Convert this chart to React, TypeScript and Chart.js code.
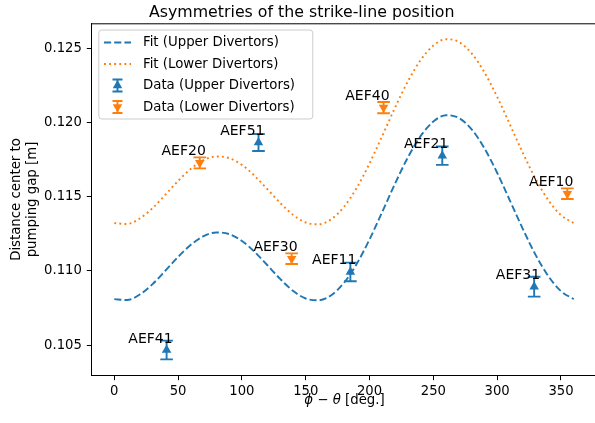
import React, { useEffect, useRef } from 'react';
import { Chart, registerables } from 'chart.js';

Chart.register(...registerables);

// ---- data ----
const fitAngles = [0, 10, 20, 30, 40, 50, 60, 70, 80, 90, 100, 110, 120, 130, 140, 150, 160, 170, 180,
  190, 200, 210, 220, 230, 240, 250, 260, 270, 280, 290, 300, 310, 320, 330, 340, 350, 360];
const fitUpper = [0.10810, 0.10804, 0.10841, 0.10911, 0.11001, 0.11094, 0.11176, 0.11234, 0.11259, 0.11248,
  0.11202, 0.11128, 0.11038, 0.10946, 0.10866, 0.10814, 0.10802, 0.10836, 0.10920, 0.11048, 0.11212,
  0.11398, 0.11588, 0.11764, 0.11908, 0.12006, 0.12049, 0.12030, 0.11954, 0.11826, 0.11661, 0.11474,
  0.11285, 0.11110, 0.10966, 0.10864, 0.10810];
const fitLower = [0.11322, 0.11316, 0.11353, 0.11423, 0.11513, 0.11606, 0.11688, 0.11746, 0.11771, 0.11760,
  0.11714, 0.11640, 0.11550, 0.11458, 0.11378, 0.11326, 0.11314, 0.11348, 0.11432, 0.11560, 0.11724,
  0.11910, 0.12100, 0.12276, 0.12420, 0.12518, 0.12561, 0.12542, 0.12466, 0.12338, 0.12173, 0.11986,
  0.11797, 0.11622, 0.11478, 0.11376, 0.11322];

const upperAngles = [41, 113, 185, 257, 329];
const upperValues = [0.10467, 0.11865, 0.10993, 0.11776, 0.10894];
const upperErrors = [0.00063, 0.00057, 0.00063, 0.00062, 0.00067];
const upperNames = ['AEF41', 'AEF51', 'AEF11', 'AEF21', 'AEF31'];

const lowerAngles = [67, 139, 211, 355];
const lowerValues = [0.11728, 0.11082, 0.12100, 0.11520];
const lowerErrors = [0.00037, 0.00036, 0.00038, 0.00036];
const lowerNames = ['AEF20', 'AEF30', 'AEF40', 'AEF10'];

const xTicks = [0, 50, 100, 150, 200, 250, 300, 350];
const yTicks = [0.105, 0.110, 0.115, 0.120, 0.125];

const titleText = 'Asymmetries of the strike-line position';
const yTitleLines = ['Distance center to', 'pumping gap [m]'];
const legendLabels = ['Fit (Upper Divertors)', 'Fit (Lower Divertors)', 'Data (Upper Divertors)', 'Data (Lower Divertors)'];

// ---- styles ----
const BLUE = '#1f77b4';
const ORANGE = '#ff7f0e';
const FAM = "'DejaVu Sans', sans-serif";
const W = 700;
const H = 423;

function triPath(ctx: CanvasRenderingContext2D, x: number, y: number, r: number, rotDeg: number) {
  let rad = (rotDeg * Math.PI) / 180;
  ctx.beginPath();
  ctx.moveTo(x + Math.sin(rad) * r, y - Math.cos(rad) * r);
  rad += (2 * Math.PI) / 3;
  ctx.lineTo(x + Math.sin(rad) * r, y - Math.cos(rad) * r);
  rad += (2 * Math.PI) / 3;
  ctx.lineTo(x + Math.sin(rad) * r, y - Math.cos(rad) * r);
  ctx.closePath();
}

function errGlyph(ctx: CanvasRenderingContext2D, x: number, y: number, half: number, cap: number, color: string) {
  ctx.save();
  ctx.strokeStyle = color;
  ctx.lineWidth = 1.9;
  ctx.beginPath();
  ctx.moveTo(x, y - half);
  ctx.lineTo(x, y + half);
  ctx.moveTo(x - cap, y - half);
  ctx.lineTo(x + cap, y - half);
  ctx.moveTo(x - cap, y + half);
  ctx.lineTo(x + cap, y + half);
  ctx.stroke();
  ctx.restore();
}

const customPlugin = {
  id: 'customDraw',
  beforeDatasetDraw(chart: any, args: any) {
    const ds = chart.data.datasets[args.index];
    if (!ds.errors) return;
    const ctx = chart.ctx;
    const xs = chart.scales.x;
    const ys = chart.scales.y;
    ds.data.forEach((p: any, i: number) => {
      const px = xs.getPixelForValue(p.x);
      const y1 = ys.getPixelForValue(p.y - ds.errors[i]);
      const y2 = ys.getPixelForValue(p.y + ds.errors[i]);
      ctx.save();
      ctx.strokeStyle = ds.borderColor;
      ctx.lineWidth = 1.9;
      ctx.beginPath();
      ctx.moveTo(px, y1);
      ctx.lineTo(px, y2);
      ctx.moveTo(px - 6.3, y1);
      ctx.lineTo(px + 6.3, y1);
      ctx.moveTo(px - 6.3, y2);
      ctx.lineTo(px + 6.3, y2);
      ctx.stroke();
      ctx.restore();
    });
  },
  afterDatasetsDraw(chart: any) {
    const ctx = chart.ctx;
    const xs = chart.scales.x;
    const ys = chart.scales.y;
    ctx.save();
    ctx.fillStyle = '#000';
    ctx.font = `14px ${FAM}`;
    ctx.textAlign = 'right';
    ctx.textBaseline = 'alphabetic';
    chart.data.datasets.forEach((ds: any) => {
      if (!ds.names) return;
      ds.data.forEach((p: any, i: number) => {
        const px = xs.getPixelForValue(p.x);
        const py = ys.getPixelForValue(p.y);
        ctx.fillText(ds.names[i], px + 6, py - 7.5);
      });
    });
    ctx.restore();
  },
  afterDraw(chart: any) {
    const ctx = chart.ctx;
    const a = chart.chartArea;
    ctx.save();
    // top spine
    ctx.strokeStyle = '#000';
    ctx.lineWidth = 1;
    ctx.beginPath();
    ctx.moveTo(a.left, a.top + 0.5);
    ctx.lineTo(a.right + 10, a.top + 0.5);
    ctx.stroke();

    // title
    ctx.fillStyle = '#000';
    ctx.font = `15.8px ${FAM}`;
    ctx.textAlign = 'center';
    ctx.textBaseline = 'alphabetic';
    ctx.fillText(titleText, 301.7, 17);

    // y title
    ctx.save();
    ctx.translate(0, (a.top + a.bottom) / 2);
    ctx.rotate(-Math.PI / 2);
    ctx.font = `13.3px ${FAM}`;
    ctx.textAlign = 'center';
    ctx.textBaseline = 'middle';
    ctx.fillText(yTitleLines[0], 0, 16.7);
    ctx.fillText(yTitleLines[1], 0, 32.7);
    ctx.restore();

    // x title with italic math symbols
    const segs: [string, string][] = [
      ['\u03D5', 'italic'],
      [' \u2212 ', 'normal'],
      ['\u03B8', 'italic'],
      [' [deg.]', 'normal'],
    ];
    let total = 0;
    const widths: number[] = [];
    segs.forEach(([t, st]) => {
      ctx.font = `${st} 13.3px ${FAM}`;
      const w = ctx.measureText(t).width;
      widths.push(w);
      total += w;
    });
    let cx = 344.5 - total / 2;
    ctx.textAlign = 'left';
    segs.forEach(([t, st], i) => {
      ctx.font = `${st} 13.3px ${FAM}`;
      ctx.fillText(t, cx, 404);
      cx += widths[i];
    });

    // legend
    const bx = 98.8, by = 30, bw = 214, bh = 89, r = 3;
    ctx.beginPath();
    ctx.moveTo(bx + r, by);
    ctx.lineTo(bx + bw - r, by);
    ctx.arcTo(bx + bw, by, bx + bw, by + r, r);
    ctx.lineTo(bx + bw, by + bh - r);
    ctx.arcTo(bx + bw, by + bh, bx + bw - r, by + bh, r);
    ctx.lineTo(bx + r, by + bh);
    ctx.arcTo(bx, by + bh, bx, by + bh - r, r);
    ctx.lineTo(bx, by + r);
    ctx.arcTo(bx, by, bx + r, by, r);
    ctx.closePath();
    ctx.fillStyle = 'rgba(255,255,255,0.8)';
    ctx.fill();
    ctx.strokeStyle = '#cccccc';
    ctx.lineWidth = 1;
    ctx.stroke();

    const rows = [42.5, 64, 85.5, 107];
    const hx0 = 104, hx1 = 131, hc = (hx0 + hx1) / 2;
    ctx.lineWidth = 1.9;
    ctx.strokeStyle = BLUE;
    ctx.setLineDash([7.1, 3.1]);
    ctx.beginPath();
    ctx.moveTo(hx0, rows[0]);
    ctx.lineTo(hx1, rows[0]);
    ctx.stroke();
    ctx.strokeStyle = ORANGE;
    ctx.setLineDash([1.9, 3.2]);
    ctx.beginPath();
    ctx.moveTo(hx0, rows[1]);
    ctx.lineTo(hx1, rows[1]);
    ctx.stroke();
    ctx.setLineDash([]);
    errGlyph(ctx, hc, rows[2], 6, 5, BLUE);
    ctx.fillStyle = BLUE;
    triPath(ctx, hc, rows[2], 5.5, 0);
    ctx.fill();
    errGlyph(ctx, hc, rows[3], 6, 5, ORANGE);
    ctx.fillStyle = ORANGE;
    triPath(ctx, hc, rows[3], 5.5, 180);
    ctx.fill();

    ctx.fillStyle = '#000';
    ctx.font = `13.3px ${FAM}`;
    ctx.textAlign = 'left';
    ctx.textBaseline = 'middle';
    legendLabels.forEach((t, i) => ctx.fillText(t, 143, rows[i] + 0.5));
    ctx.restore();
  },
};

export default function App() {
  const ref = useRef<HTMLCanvasElement>(null);
  useEffect(() => {
    const canvas = ref.current;
    if (!canvas) return;
    const tickFont = { family: FAM, size: 13.2 };
    const chart = new Chart(canvas, {
      type: 'scatter',
      data: {
        datasets: [
          {
            type: 'line',
            label: legendLabels[0],
            data: fitAngles.map((a, i) => ({ x: a, y: fitUpper[i] })),
            borderColor: BLUE,
            backgroundColor: BLUE,
            borderWidth: 1.9,
            borderDash: [7.1, 3.1],
            pointRadius: 0,
            fill: false,
            cubicInterpolationMode: 'monotone',
          } as any,
          {
            type: 'line',
            label: legendLabels[1],
            data: fitAngles.map((a, i) => ({ x: a, y: fitLower[i] })),
            borderColor: ORANGE,
            backgroundColor: ORANGE,
            borderWidth: 1.9,
            borderDash: [1.9, 3.2],
            pointRadius: 0,
            fill: false,
            cubicInterpolationMode: 'monotone',
          } as any,
          {
            type: 'scatter',
            label: legendLabels[2],
            data: upperAngles.map((a, i) => ({ x: a, y: upperValues[i] })),
            errors: upperErrors,
            names: upperNames,
            backgroundColor: BLUE,
            borderColor: BLUE,
            pointStyle: 'triangle',
            pointRadius: 5.5,
            pointBorderWidth: 0,
          } as any,
          {
            type: 'scatter',
            label: legendLabels[3],
            data: lowerAngles.map((a, i) => ({ x: a, y: lowerValues[i] })),
            errors: lowerErrors,
            names: lowerNames,
            backgroundColor: ORANGE,
            borderColor: ORANGE,
            pointStyle: 'triangle',
            pointRotation: 180,
            pointRadius: 5.5,
            pointBorderWidth: 0,
          } as any,
        ],
      },
      options: {
        animation: false,
        responsive: false,
        devicePixelRatio: 1,
        layout: { padding: { left: 0, top: 23.3, right: W - 596.7, bottom: 0 } },
        plugins: {
          legend: { display: false },
          title: { display: false },
          tooltip: { enabled: false },
        },
        scales: {
          x: {
            type: 'linear',
            min: -18,
            max: 378,
            afterFit(s: any) { s.height = 47.3; },
            afterBuildTicks(s: any) { s.ticks = xTicks.map((v) => ({ value: v })); },
            ticks: {
              font: tickFont,
              color: '#000',
              padding: 3,
              maxRotation: 0,
              callback: (v: any) => String(v),
            },
            grid: { display: true, drawOnChartArea: false, drawTicks: true, tickLength: 4.5, tickColor: '#000', tickWidth: 1 },
            border: { display: true, color: '#000', width: 1 },
          },
          y: {
            type: 'linear',
            min: 0.10294,
            max: 0.12668,
            afterFit(s: any) { s.width = 91.3; },
            afterBuildTicks(s: any) { s.ticks = yTicks.map((v) => ({ value: v })); },
            ticks: {
              font: tickFont,
              color: '#000',
              padding: 5,
              callback: (v: any) => Number(v).toFixed(3),
            },
            grid: { display: true, drawOnChartArea: false, drawTicks: true, tickLength: 4.5, tickColor: '#000', tickWidth: 1 },
            border: { display: true, color: '#000', width: 1 },
          },
        },
      } as any,
      plugins: [customPlugin as any],
    });
    return () => chart.destroy();
  }, []);

  return (
    <div style={{ position: 'absolute', left: 0, top: 0, width: 595, height: 423, overflow: 'hidden', background: '#fff' }}>
      <canvas ref={ref} width={W} height={H} style={{ display: 'block', width: W, height: H }} />
    </div>
  );
}
